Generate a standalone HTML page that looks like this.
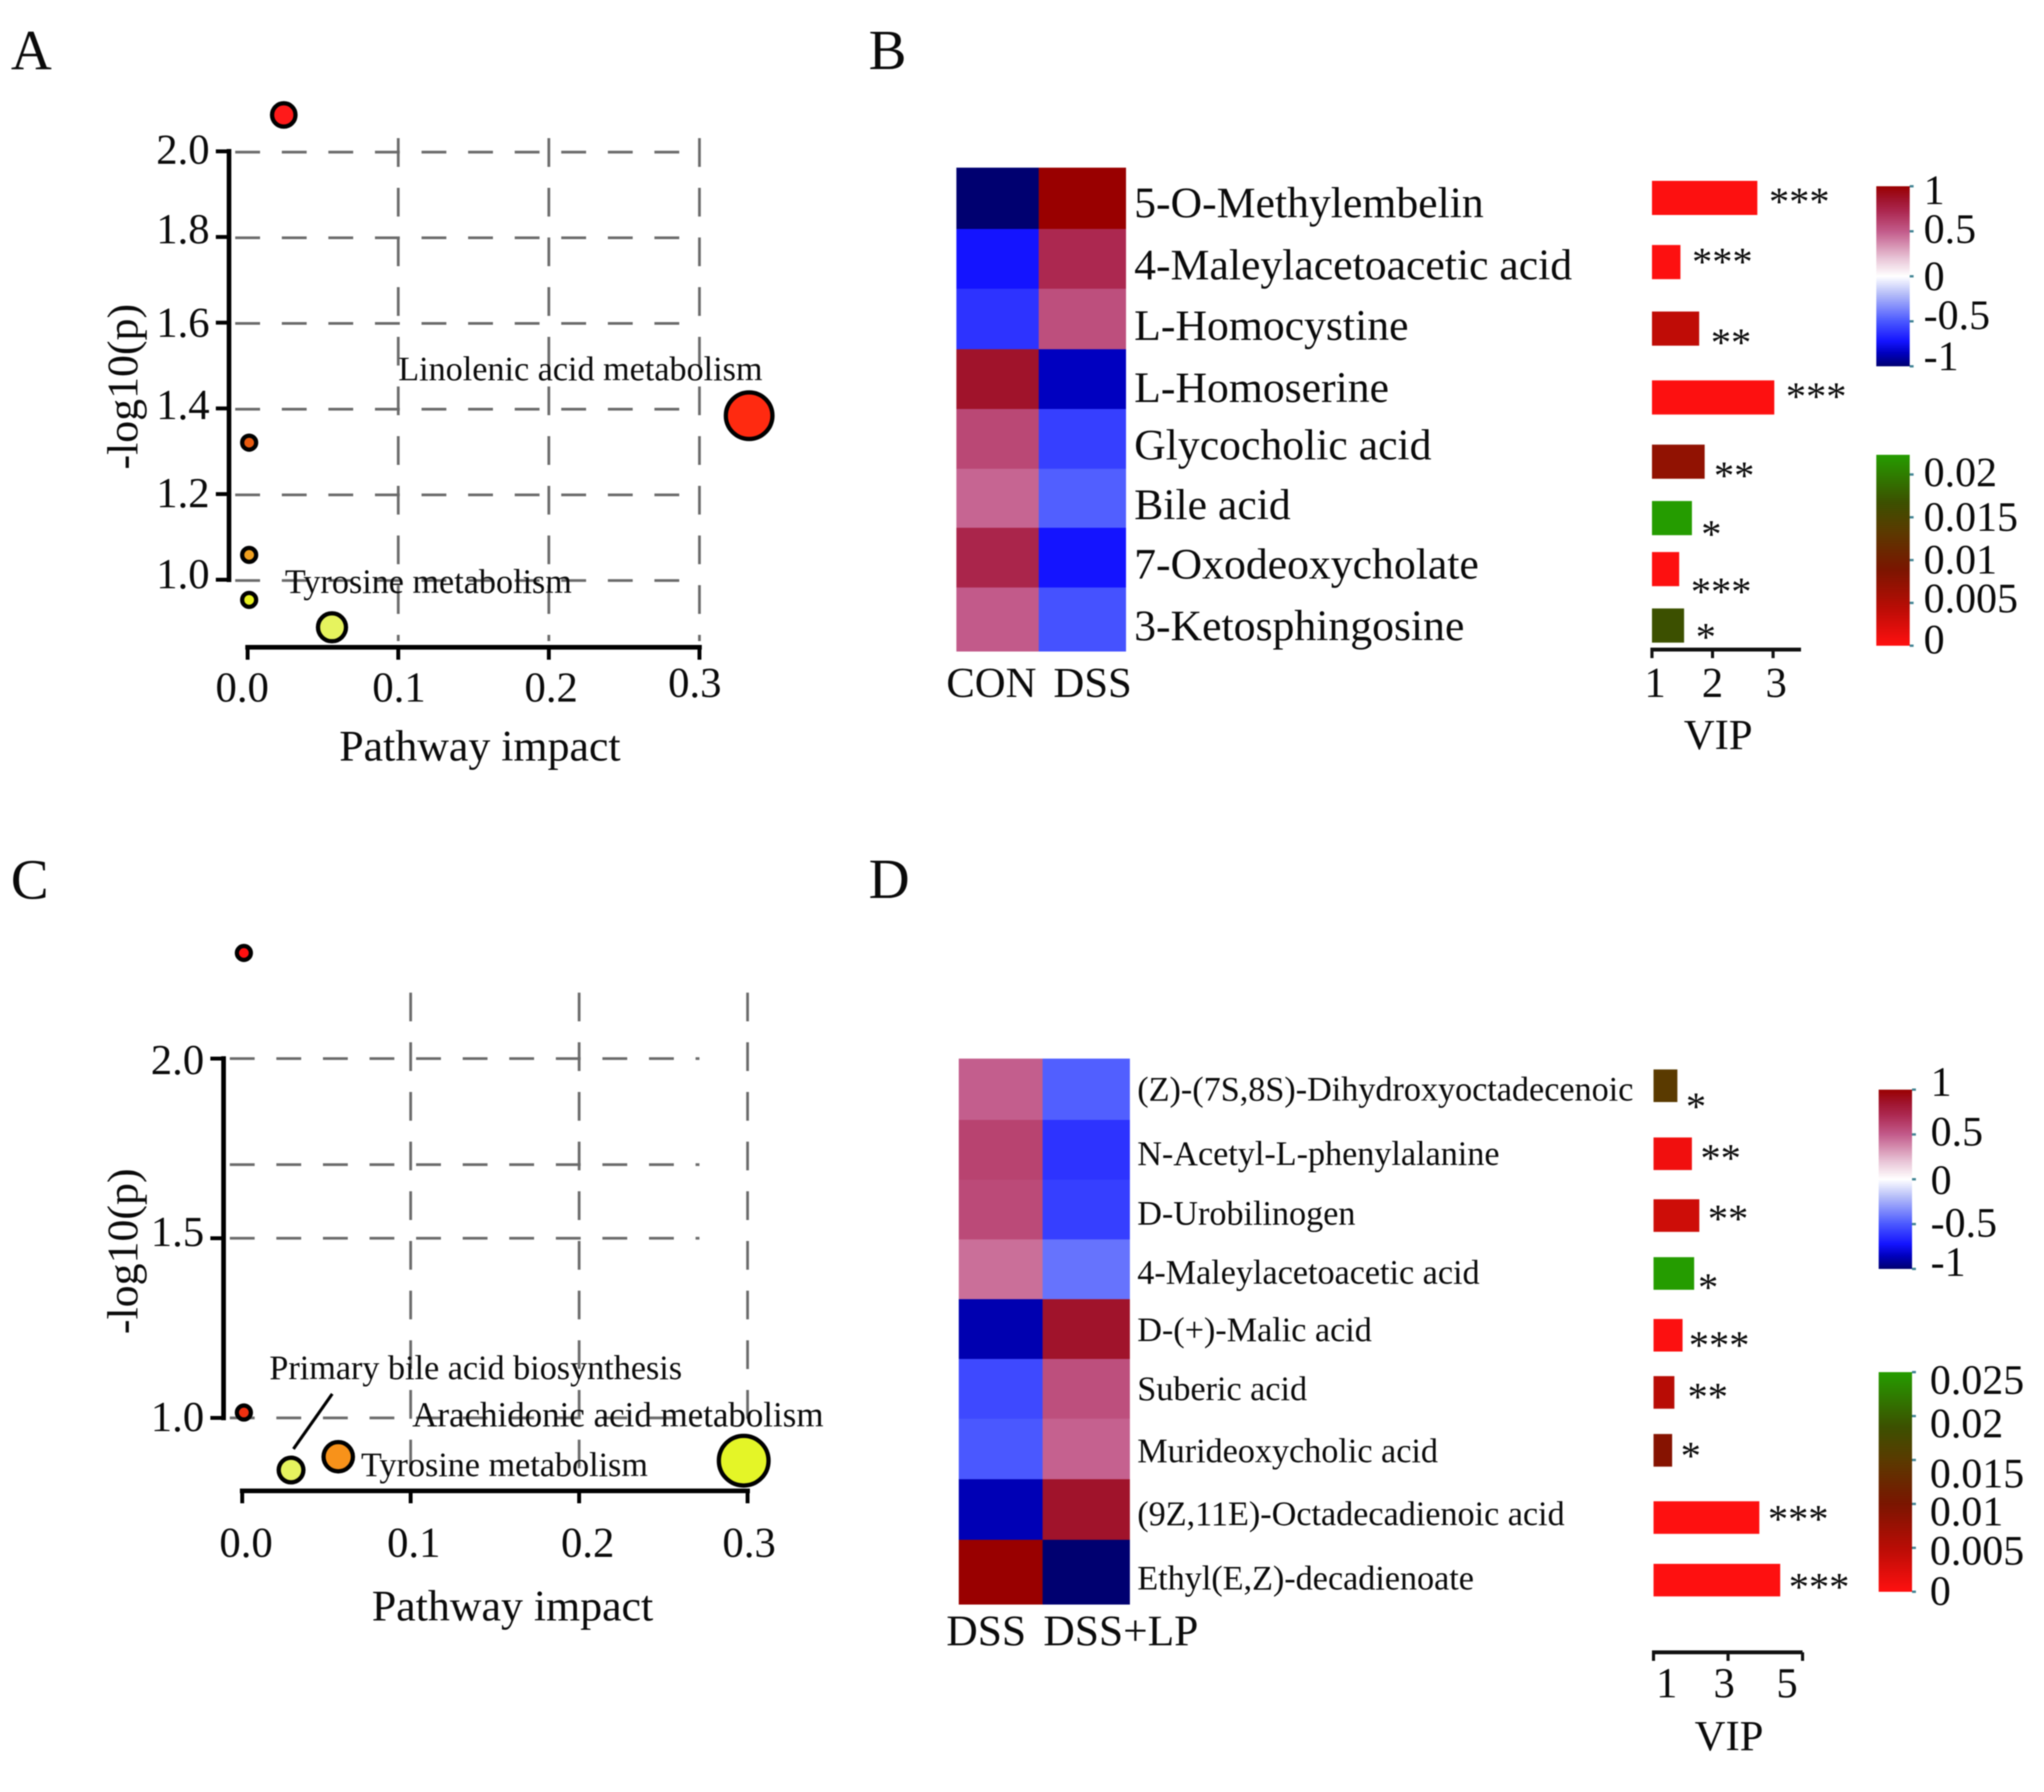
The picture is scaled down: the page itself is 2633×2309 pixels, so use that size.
<!DOCTYPE html>
<html lang="en">
<head>
<meta charset="utf-8">
<title>Metabolic pathway and metabolite charts</title>
<style>
html,body{margin:0;padding:0;background:#fff;}
svg{display:block;filter:blur(0.9px);}
text{font-family:"Liberation Serif",serif;fill:#0a0a0a;}
</style>
</head>
<body>
<svg id="chart" xmlns="http://www.w3.org/2000/svg" width="2633" height="2309" viewBox="0 0 2633 2309">
  <rect width="2633" height="2309" fill="#fff"/>
  <defs id="grad-defs"></defs>
  <g id="panel-a">
    <text x="14" y="89" font-size="73">A</text>
    <text transform="translate(177,605) rotate(-90)" font-size="56.5">-log10(p)</text>
    <text x="437" y="980" font-size="56.5">Pathway impact</text>
  </g>
  <g id="panel-b">
    <text x="1119" y="89" font-size="73">B</text>
    <text x="2169" y="965" font-size="55">VIP</text>
  </g>
  <g id="panel-c">
    <text x="14" y="1158" font-size="73">C</text>
    <text transform="translate(177,1719) rotate(-90)" font-size="56.5">-log10(p)</text>
    <text x="479" y="2088" font-size="56.5">Pathway impact</text>
  </g>
  <g id="panel-d">
    <text x="1119" y="1157" font-size="73">D</text>
    <text x="2183" y="2255" font-size="55">VIP</text>
  </g>
</svg>
<script>
// ---------- Panel A data ----------
const impactA = [0.024, 0.001, 0.001, 0.001, 0.056, 0.333];
const minusLogPA = [2.085, 1.32, 1.058, 0.953, 0.889, 1.383];
const weightA = [0.29, 0, 0, 0, 0.43, 1];
const xTicksA = [0, 0.1, 0.2, 0.3];
const xTickLabelsA = ['0.0', '0.1', '0.2', '0.3'];
const yTicksA = [2, 1.8, 1.6, 1.4, 1.2, 1];
const yTickLabelsA = ['2.0', '1.8', '1.6', '1.4', '1.2', '1.0'];

// ---------- Panel C data ----------
const impactC = [0.001, 0.001, 0.029, 0.057, 0.2977];
const minusLogPC = [2.294, 1.015, 0.855, 0.892, 0.881];
const weightC = [0, 0, 0.3, 0.43, 1];
const xTicksC = [0, 0.1, 0.2, 0.3];
const xTickLabelsC = ['0.0', '0.1', '0.2', '0.3'];
const yTicksC = [2, 1.5, 1];
const yTickLabelsC = ['2.0', '1.5', '1.0'];
const yGridC = [2, 1.705, 1.5, 1];

// ---------- Panel B data ----------
const metabolitesB = ['5-O-Methylembelin', '4-Maleylacetoacetic acid', 'L-Homocystine', 'L-Homoserine', 'Glycocholic acid', 'Bile acid', '7-Oxodeoxycholate', '3-Ketosphingosine'];
const groupsB = ['CON', 'DSS'];
const zConB = [-1, -0.72, -0.62, 0.86, 0.58, 0.47, 0.74, 0.5];
const zDssB = [1, 0.72, 0.55, -0.85, -0.58, -0.48, -0.72, -0.52];
const vipB = [2.74, 1.47, 1.78, 3.02, 1.87, 1.66, 1.45, 1.53];
const pValueB = [0.0001, 0.0001, 0.004, 0.0001, 0.0073, 0.0223, 0.0001, 0.0167];
const starsB = ['***', '***', '**', '***', '**', '*', '***', '*'];
const vipTicksB = [1, 2, 3];
const zLegendTicks = [1, 0.5, 0, -0.5, -1];
const zLegendLabels = ['1', '0.5', '0', '-0.5', '-1'];
const pLegendTicksB = [0.02, 0.015, 0.01, 0.005, 0];
const pLegendLabelsB = ['0.02', '0.015', '0.01', '0.005', '0'];

// ---------- Panel D data ----------
const metabolitesD = ['(Z)-(7S,8S)-Dihydroxyoctadecenoic', 'N-Acetyl-L-phenylalanine', 'D-Urobilinogen', '4-Maleylacetoacetic acid', 'D-(+)-Malic acid', 'Suberic acid', 'Murideoxycholic acid', '(9Z,11E)-Octadecadienoic acid', 'Ethyl(E,Z)-decadienoate'];
const groupsD = ['DSS', 'DSS+LP'];
const zDssD = [0.49, 0.6, 0.57, 0.44, -0.88, -0.55, -0.5, -0.87, 1];
const zLpD = [-0.48, -0.62, -0.58, -0.42, 0.86, 0.55, 0.48, 0.86, -1];
const vipD = [1.64, 2.03, 2.23, 2.09, 1.78, 1.56, 1.5, 3.84, 4.4];
const pValueD = [0.015, 0.001, 0.0035, 0.025, 0.0002, 0.005, 0.009, 0.0001, 0.0001];
const starsD = ['*', '**', '**', '*', '***', '**', '*', '***', '***'];
const vipTicksD = [1, 3, 5];
const pLegendTicksD = [0.025, 0.02, 0.015, 0.01, 0.005, 0];
const pLegendLabelsD = ['0.025', '0.02', '0.015', '0.01', '0.005', '0'];

// ---------- helpers ----------
const NS = 'http://www.w3.org/2000/svg';
function mk(tag, attrs, parent) {
  const el = document.createElementNS(NS, tag);
  for (const k in attrs) el.setAttribute(k, attrs[k]);
  parent.appendChild(el);
  return el;
}
function hex(c) {
  return [parseInt(c.slice(1, 3), 16), parseInt(c.slice(3, 5), 16), parseInt(c.slice(5, 7), 16)];
}
function ramp(stops, v) {
  if (v <= stops[0][0]) return stops[0][1];
  for (let i = 1; i < stops.length; i++) {
    if (v <= stops[i][0]) {
      const t = (v - stops[i - 1][0]) / (stops[i][0] - stops[i - 1][0]);
      const a = hex(stops[i - 1][1]);
      const b = hex(stops[i][1]);
      return 'rgb(' + a.map((x, j) => Math.round(x + (b[j] - x) * t)).join(',') + ')';
    }
  }
  return stops[stops.length - 1][1];
}
const zRamp = [[-1, '#000070'], [-0.85, '#0000c0'], [-0.72, '#1414ff'], [-0.5, '#4a58ff'], [-0.2, '#b4bcf8'], [0, '#ffffff'], [0.2, '#e8c4d6'], [0.5, '#c25a8a'], [0.72, '#ac2850'], [0.85, '#a0142e'], [1, '#990000']];
const pRamp = [[0, '#ff1010'], [0.2, '#b80c05'], [0.4, '#7a1500'], [0.6, '#5a3a00'], [0.75, '#3c5000'], [1, '#259c00']];
const defs = document.getElementById('grad-defs');
function gradient(id, stops, lo, hi) {
  const g = mk('linearGradient', { id: id, x1: 0, y1: 0, x2: 0, y2: 1 }, defs);
  stops.slice().reverse().forEach(s => {
    const t = (hi - s[0]) / (hi - lo);
    mk('stop', { offset: t, 'stop-color': s[1] }, g);
  });
}
gradient('z-grad-b', zRamp, -1, 1);
gradient('p-grad', pRamp, 0, 1);

// ---------- scatter panel ----------
function drawScatter(c) {
  const root = document.getElementById(c.panel);
  const sx = v => c.x0 + v * c.xUnit;
  const sy = v => c.y1 - (v - 1) * c.yUnit;
  const gridStyle = { stroke: '#6a6a6a', 'stroke-width': 3.5, fill: 'none' };
  c.yGrid.forEach((v, i) => {
    const ln = mk('line', Object.assign({ x1: c.gridLeft, x2: c.gridRight, y1: sy(v) + c.gridDrop, y2: sy(v) + c.gridDrop, 'stroke-dasharray': '32 28' }, gridStyle), root);
    
    
  });
  c.xTicks.slice(1).forEach((v, i) => {
    const ln = mk('line', Object.assign({ x1: sx(v), x2: sx(v), y1: c.gridTop, y2: c.gridBottom, 'stroke-dasharray': '37 27' }, gridStyle), root);
    
    
  });
  c.notes.forEach((n, i) => {
    const t = mk('text', { x: n[1], y: n[2], 'font-size': n[3] }, root);
    t.textContent = n[0];
    
    
  });
  const yAxis = mk('line', { x1: c.yAxisX, x2: c.yAxisX, y1: sy(c.yTicks[0]) - 3, y2: sy(1) + 3, stroke: '#000', 'stroke-width': 6 }, root);
  
  
  c.yTicks.forEach((v, i) => {
    const tk = mk('line', { x1: c.yAxisX - 17, x2: c.yAxisX, y1: sy(v), y2: sy(v), stroke: '#000', 'stroke-width': 5 }, root);
    
    
    const t = mk('text', { x: c.yAxisX - 25, y: sy(v) + c.yLabelDrop + c.yLabelNudge[i], 'font-size': 55, 'text-anchor': 'end' }, root);
    t.textContent = c.yLabels[i];
    
    
  });
  const xAxis = mk('line', { x1: sx(0) - 3, x2: sx(c.xTicks[c.xTicks.length - 1]) + 3, y1: c.xAxisY, y2: c.xAxisY, stroke: '#000', 'stroke-width': 6 }, root);
  
  
  c.xTicks.forEach((v, i) => {
    const tk = mk('line', { x1: sx(v), x2: sx(v), y1: c.xAxisY, y2: c.xAxisY + 16, stroke: '#000', 'stroke-width': 5 }, root);
    
    
    const t = mk('text', { x: sx(v) + c.xLabelNudgeX[i] + c.xLabelStart, y: c.xLabelY + c.xLabelNudgeY[i], 'font-size': 55, 'text-anchor': 'middle' }, root);
    t.textContent = c.xLabels[i];
    
    
  });
  if (c.leader) {
    const l = mk('line', { x1: c.leader[0], y1: c.leader[1], x2: c.leader[2], y2: c.leader[3], stroke: '#000', 'stroke-width': 4 }, root);
    
    
  }
  c.impact.forEach((v, i) => {
    const r = c.rMin + c.weight[i] * c.rSpan;
    const p = mk('circle', { cx: sx(v), cy: sy(c.logp[i]), r: r, fill: c.fills[i], stroke: '#000', 'stroke-width': 5.5 }, root);
    
    
  });
}

drawScatter({
  panel: 'panel-a', impact: impactA, logp: minusLogPA, weight: weightA,
  fills: ['#ff1a1a', '#e85a10', '#f0a020', '#e8f020', '#e6f35e', '#ff2a10'],
  x0: 319, xUnit: 1940, y1: 747, yUnit: 552, rMin: 9, rSpan: 21,
  xTicks: xTicksA, xLabels: xTickLabelsA, yTicks: yTicksA, yLabels: yTickLabelsA, yGrid: yTicksA,
  gridLeft: 303, gridRight: 901, gridTop: 178, gridBottom: 826, gridDrop: 1, yAxisX: 295, xAxisY: 834,
  yLabelDrop: 16, yLabelNudge: [0, -8, 2, -2, 1, -5],
  xLabelY: 904, xLabelStart: -3, xLabelNudgeX: [-4, 4, 6, -3], xLabelNudgeY: [0, 0, 0, -6],
  notes: [['Linolenic acid metabolism', 513, 490, 44], ['Tyrosine metabolism', 367, 764, 44]]
});
drawScatter({
  panel: 'panel-c', impact: impactC, logp: minusLogPC, weight: weightC,
  fills: ['#ff1010', '#f03010', '#e6f35e', '#f8921a', '#e4f527'],
  x0: 312, xUnit: 2170, y1: 1827, yUnit: 463, rMin: 9, rSpan: 23,
  xTicks: xTicksC, xLabels: xTickLabelsC, yTicks: yTicksC, yLabels: yTickLabelsC, yGrid: yGridC,
  gridLeft: 296, gridRight: 901, gridTop: 1279, gridBottom: 1918, gridDrop: 0, yAxisX: 288, xAxisY: 1921,
  yLabelDrop: 18, yLabelNudge: [2, -8, -1],
  xLabelY: 2006, xLabelStart: 4, xLabelNudgeX: [1, 0, 7, -2], xLabelNudgeY: [0, 0, 0, 0],
  leader: [428, 1796, 378, 1867],
  notes: [['Primary bile acid biosynthesis', 347, 1777, 44], ['Arachidonic acid metabolism', 531, 1838, 45], ['Tyrosine metabolism', 465, 1902, 44]]
});

// ---------- heatmap + VIP bars panel ----------
function drawHeat(c) {
  const root = document.getElementById(c.panel);
  c.cols.forEach((col, j) => {
    col.forEach((z, i) => {
      const cell = mk('rect', { x: c.colX[j], y: c.rowEdges[i], width: c.colX[j + 1] - c.colX[j] + 0.5, height: c.rowEdges[i + 1] - c.rowEdges[i] + 0.5, fill: ramp(zRamp, z) }, root);
      
      
    });
  });
  c.names.forEach((n, i) => {
    const mid = (c.rowEdges[i] + c.rowEdges[i + 1]) / 2;
    const t = mk('text', { x: c.nameX, y: mid + c.nameDrop + c.nameNudge[i], 'font-size': c.nameSize }, root);
    t.textContent = n;
    
    
  });
  c.groups.forEach((g, j) => {
    const t = mk('text', { x: c.groupX[j], y: c.groupY, 'font-size': c.groupSize }, root);
    t.textContent = g;
    
    
  });

  const vx = v => c.vipX0 + (v - c.vipTicks[0]) * c.vipUnit;
  const step = (c.barLast - c.barFirst) / (c.names.length - 1);
  c.vip.forEach((v, i) => {
    const cy = c.barFirst + i * step + c.barNudge[i];
    const b = mk('rect', { x: c.vipX0, y: cy - c.barH / 2, width: vx(v) - c.vipX0, height: c.barH, fill: ramp(pRamp, c.p[i] / c.pMax) }, root);
    
    
    const s = mk('text', { x: vx(v) + c.starGap + c.starNudgeX[i], y: cy + c.starNudge[i] + 24, 'font-size': 52 }, root);
    s.textContent = c.stars[i];
    
    
  });
  const ax = mk('line', { x1: c.vipX0 - 2, x2: c.vipAxisEnd, y1: c.vipAxisY, y2: c.vipAxisY, stroke: '#111', 'stroke-width': 5 }, root);
  
  
  c.vipTicks.forEach((v, i) => {
    const tk = mk('line', { x1: vx(v), x2: vx(v), y1: c.vipAxisY, y2: c.vipAxisY + 11, stroke: '#111', 'stroke-width': 4 }, root);
    
    
    const t = mk('text', { x: vx(v) + c.vipLabelNudge[i], y: c.vipLabelY, 'font-size': 55, 'text-anchor': 'middle' }, root);
    t.textContent = String(v);
    
    
  });

  function legend(name, fill, top, bottom, lo, hi, ticks, labels, k, off, nudge, labelX) {
    const bar = mk('rect', { x: c.legendX, y: top, width: 43, height: bottom - top, fill: fill }, root);
    
    
    const py = v => bottom - (v - lo) / (hi - lo) * (bottom - top);
    const mid = py((lo + hi) / 2);
    ticks.forEach((v, i) => {
      const tk = mk('line', { x1: c.legendX + 43, x2: c.legendX + 48, y1: py(v), y2: py(v), stroke: '#3f8292', 'stroke-width': 3 }, root);
      
      
      const t = mk('text', { x: labelX, y: mid + (py(v) - mid) * k + off + nudge[i], 'font-size': 54 }, root);
      t.textContent = labels[i];
      
      
    });
  }
  legend('z-score', 'url(#z-grad-b)', c.zTop, c.zBottom, -1, 1, zLegendTicks, zLegendLabels, c.zK, c.zOff, c.zNudge, c.zLabelX);
  legend('p-value', 'url(#p-grad)', c.pTop, c.pBottom, 0, c.pMax, c.pTicks, c.pLabels, c.pK, c.pOff, c.pNudge, c.pLabelX);
}

drawHeat({
  panel: 'panel-b', names: metabolitesB, groups: groupsB, cols: [zConB, zDssB],
  colX: [1232, 1338, 1450], rowEdges: [216, 295, 372, 450, 527, 604, 680, 757, 839],
  nameX: 1461, nameDrop: 27, nameSize: 56.3, nameNudge: [-2.5, -0.5, 0, 2.5, -0.5, 0, 0, 0],
  groupX: [1219, 1357], groupY: 898, groupSize: 55,
  vip: vipB, p: pValueB, pMax: 0.0223, stars: starsB, vipTicks: vipTicksB,
  vipX0: 2128, vipUnit: 78, vipAxisEnd: 2320, vipAxisY: 837, vipLabelY: 898, vipLabelNudge: [4, 0, 4],
  barFirst: 255, barLast: 806, barH: 44, starGap: 15,
  barNudge: [0, 4, 11, 21, 25, 19, 6, 0],
  starNudge: [-2, -7, 11, -8, 11, 14, 22, 8],
  starNudgeX: [0, 0, 0, 0, -3, -3, 0, 0],
  legendX: 2417, zTop: 240, zBottom: 472, zK: 0.914, zOff: 18, zNudge: [-5, -8, 0, -3, -3], zLabelX: 2478,
  pTop: 586, pBottom: 832, pTicks: pLegendTicksB, pLabels: pLegendLabelsB, pK: 0.96, pOff: 18, pNudge: [-7, -2, 0, -3, -3], pLabelX: 2478
});
drawHeat({
  panel: 'panel-d', names: metabolitesD, groups: groupsD, cols: [zDssD, zLpD],
  colX: [1235, 1343, 1455], rowEdges: [1364, 1443, 1520, 1597, 1674, 1751, 1828, 1906, 1984, 2067],
  nameX: 1465, nameDrop: 17, nameSize: 44, nameNudge: [-2.5, 2.5, 2.5, 1.5, -1.5, -2.5, 0, 3, 5.5],
  groupX: [1219, 1344], groupY: 2120, groupSize: 56,
  vip: vipD, p: pValueD, pMax: 0.025, stars: starsD, vipTicks: vipTicksD,
  vipX0: 2130, vipUnit: 48, vipAxisEnd: 2322, vipAxisY: 2129, vipLabelY: 2187, vipLabelNudge: [17, -5, -20],
  barFirst: 1399, barLast: 2036, barH: 42, starGap: 11,
  barNudge: [0, 8, 8, 3, 3, -3, -8, -1, 0],
  starNudge: [20, -1, -3, 11, 6, -1, 0, -5, 2],
  starNudgeX: [0, 0, 0, -6, -3, 6, 0, 0, 0],
  legendX: 2420, zTop: 1404, zBottom: 1635, zK: 1, zOff: 16, zNudge: [-8, -2, 3, 0, -7], zLabelX: 2487,
  pTop: 1768, pBottom: 2051, pTicks: pLegendTicksD, pLabels: pLegendLabelsD, pK: 0.95, pOff: 26, pNudge: [-5, -3, 8, 3, 0, -2], pLabelX: 2486
});
</script>
</body>
</html>
